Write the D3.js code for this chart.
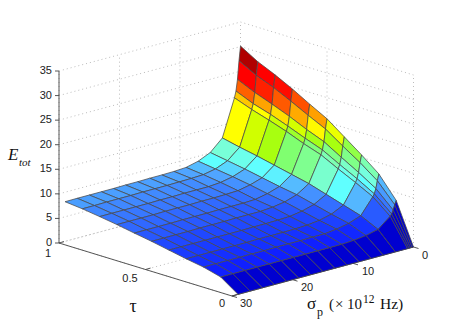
<!DOCTYPE html>
<html><head><meta charset="utf-8">
<script src="https://cdn.jsdelivr.net/npm/d3@7"></script>
<style>html,body{margin:0;padding:0;background:#fff}svg{display:block}</style>
</head><body><div id="c"></div>
<script>
const tauValues=[1,.9,.8,.7,.6,.5,.4,.3,.2,.1,0];
const sigmaValues=[0,.25,.5,.75,1,3,5,7,9,11,13,15,17,19,21,23,25,27,29];
const energy=[
[30.1,28.0,26.4,24.6,22.6,20.7,18.1,15.5,12.7,8.4,0],
[27.2,25.3,23.9,22.2,20.4,18.7,16.3,14.0,11.4,7.6,0],
[23.5,21.9,20.6,19.2,17.6,16.2,14.1,12.1,9.9,6.6,0],
[21.2,19.7,18.6,17.3,15.9,14.6,12.7,10.9,8.9,5.9,0],
[19.9,18.6,17.5,16.3,14.9,13.7,11.9,10.2,8.4,5.5,0],
[12.4,11.6,10.9,10.1,9.3,8.5,7.4,6.3,5.2,3.5,0],
[10.1,9.5,8.9,8.2,7.5,6.9,6.0,5.1,4.3,2.9,0],
[9.0,8.5,8.0,7.4,6.7,6.1,5.3,4.5,3.8,2.6,0],
[8.4,8.0,7.5,6.9,6.2,5.7,4.9,4.2,3.5,2.45,0],
[8.25,7.9,7.3,6.8,6.1,5.5,4.8,4.1,3.5,2.45,0],
[8.2,7.85,7.3,6.75,6.1,5.5,4.75,4.05,3.45,2.45,0],
[8.2,7.8,7.3,6.75,6.1,5.5,4.75,4.05,3.45,2.45,0],
[8.15,7.8,7.25,6.7,6.05,5.45,4.7,4.05,3.45,2.45,0],
[8.15,7.8,7.25,6.7,6.05,5.45,4.7,4.0,3.4,2.45,0],
[8.1,7.75,7.2,6.7,6.05,5.45,4.7,4.0,3.4,2.45,0],
[8.1,7.75,7.2,6.65,6.0,5.4,4.7,4.0,3.4,2.45,0],
[8.1,7.75,7.2,6.65,6.0,5.4,4.7,4.0,3.4,2.45,0],
[8.1,7.7,7.2,6.65,6.0,5.4,4.7,4.0,3.4,2.45,0],
[8.07,7.7,7.2,6.65,6.0,5.4,4.7,4.0,3.4,2.45,0]];
const zTicks=[0,5,10,15,20,25,30,35];
const tauTicks=[0,.5,1];
const sigmaTicks=[0,10,20,30];
const colorValues=[0,2.45,3.4,4,4.7,5.4,6,6.65,7.2,7.7,8,8.5,9.5,10.2,11.6,13.7,14.9,16.3,17.5,18.6,19.2,20,20.7,21.9,22.6,23.9,25,26.4,28,30.1];
const colorStops=["#0000d0","#1020ff","#1530ff","#1a3cff","#2048ff","#2858ff","#3068ff","#3878ff","#4088ff","#4a9eff","#50a5ff","#55bbff","#5fffff","#60ffff","#78ffd8","#7fff90","#80ff70","#a8ff10","#d0ff00","#ffff00","#ffdd00","#ffb800","#ffa000","#ff6000","#ff5000","#ff2000","#ff0000","#ff0000","#b00000","#800000"];

const W=457,H=332;
const svg=d3.select("#c").append("svg").attr("width",W).attr("height",H);
const sx=d3.scaleLinear([0,30],[0,-181.5]), sy=d3.scaleLinear([0,30],[0,49]);
const tx=d3.scaleLinear([0,1],[0,-173]), ty=d3.scaleLinear([0,1],[0,-53]);
const zy=d3.scaleLinear([0,35],[0,-172]);
const color=d3.scaleLinear(colorValues,colorStops);
const X=(s,t)=>413.5+sx(s)+tx(t), Y=(s,t,z=0)=>247+sy(s)+ty(t)+zy(z);
const line=(g,a,b)=>g.append("line").attr("x1",a[0]).attr("y1",a[1]).attr("x2",b[0]).attr("y2",b[1]);
const P=(s,t,z=0)=>[X(s,t),Y(s,t,z)];

const grid=svg.append("g").attr("stroke","#bcbcbc").attr("stroke-width",1).attr("stroke-dasharray","1 3").attr("fill","none");
zTicks.forEach(z=>{line(grid,P(30,1,z),P(0,1,z));line(grid,P(0,1,z),P(0,0,z));});
sigmaTicks.forEach(s=>{line(grid,P(s,1,0),P(s,1,35));line(grid,P(s,0,0),P(s,1,0));});
tauTicks.forEach(t=>{line(grid,P(0,t,0),P(0,t,35));line(grid,P(0,t,0),P(30,t,0));});

const axes=svg.append("g").attr("stroke","#444").attr("stroke-width",.9).attr("fill","none");
line(axes,P(30,1,0),P(30,1,35));
line(axes,P(30,1,0),P(30,0,0));
line(axes,P(30,0,0),P(0,0,0));
zTicks.forEach(z=>{const p=P(30,1,z);line(axes,p,[p[0]-4,p[1]]);});
tauTicks.forEach(t=>{const p=P(30,t,0);line(axes,p,[p[0]+5,p[1]-1.4]);});
sigmaTicks.forEach(s=>{const p=P(s,0,0);line(axes,p,[p[0]+5,p[1]+1.5]);});

const surf=svg.append("g").attr("stroke","#484848").attr("stroke-width",.75).attr("stroke-linejoin","round");
tauValues.slice(0,-1).forEach((t,k)=>{
  sigmaValues.slice(0,-1).forEach((s,r)=>{
    const t2=tauValues[k+1], s2=sigmaValues[r+1];
    const pts=[P(s,t,energy[r][k]),P(s2,t,energy[r+1][k]),P(s2,t2,energy[r+1][k+1]),P(s,t2,energy[r][k+1])];
    surf.append("polygon").attr("points",pts.map(p=>p.join(",")).join(" ")).attr("fill",color(energy[r][k+1]));
  });
});

const lab=svg.append("g").attr("font-family","'Liberation Sans',Arial,sans-serif").attr("font-size",11).attr("fill","#222");
zTicks.forEach(z=>lab.append("text").attr("x",52).attr("y",Y(30,1,z)+3).attr("text-anchor","end").text(z));
const tauPos=[[222,306.5],[130,282],[48,257]];
tauTicks.forEach((t,i)=>lab.append("text").attr("x",tauPos[i][0]).attr("y",tauPos[i][1]).attr("text-anchor","middle").text(t));
const sigPos=[[425,259],[368,275],[307,291],[246,307]];
sigmaTicks.forEach((s,i)=>lab.append("text").attr("x",sigPos[i][0]).attr("y",sigPos[i][1]).attr("text-anchor","middle").text(s));

const serif="'Liberation Serif','Times New Roman',serif";
const T=(x,y,size,txt,style)=>svg.append("text").attr("x",x).attr("y",y).attr("font-family",serif).attr("font-size",size).attr("font-style",style||"normal").attr("fill","#111").text(txt);
T(8,159.5,17,"E","italic");
T(19,166,11,"tot","italic");
T(129.5,312,18,"τ");
T(307,309,17,"σ");
T(317,316,12,"p");
T(329,309,15,"(");
T(335,309,15,"×");
T(347,309,15,"10");
T(363,303,11.5,"12");
T(380,309,15.5,"Hz)");
</script></body></html>
